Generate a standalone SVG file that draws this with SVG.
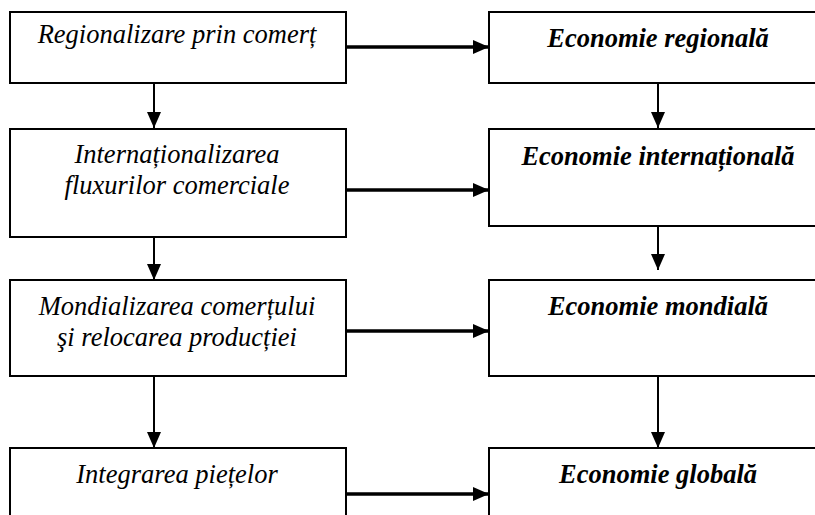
<svg xmlns="http://www.w3.org/2000/svg" width="815" height="515" viewBox="0 0 815 515">
<defs>
<style>
.box{fill:#fff;stroke:#000;stroke-width:2}
.lt{font-family:'Liberation Serif',serif;font-style:italic;font-size:26.5px;fill:#000;text-anchor:middle}
.rt{font-family:'Liberation Serif',serif;font-style:italic;font-weight:bold;font-size:26.5px;fill:#000;text-anchor:middle}
.h{stroke:#000;stroke-width:3.5;fill:none;marker-end:url(#ah)}
.v{stroke:#000;stroke-width:2;fill:none;marker-end:url(#av)}
</style>
<marker id="ah" markerUnits="userSpaceOnUse" markerWidth="16" markerHeight="14" refX="16" refY="7" orient="auto">
<path d="M0,0 L16,7 L0,14 Z" fill="#000"/>
</marker>
<marker id="av" markerUnits="userSpaceOnUse" markerWidth="16" markerHeight="14" refX="16" refY="7" orient="auto">
<path d="M0,0 L16,7 L0,14 Z" fill="#000"/>
</marker>
</defs>
<rect width="815" height="515" fill="#fff"/>
<g id="connectors">
<line class="h" x1="346" y1="47" x2="489" y2="47"/>
<line class="h" x1="346" y1="190" x2="489" y2="190"/>
<line class="h" x1="346" y1="331" x2="489" y2="331"/>
<line class="h" x1="346" y1="494" x2="489" y2="494"/>
<line class="v" x1="154" y1="83" x2="154" y2="128"/>
<line class="v" x1="154" y1="237" x2="154" y2="280"/>
<line class="v" x1="154" y1="376" x2="154" y2="448"/>
<line class="v" x1="658" y1="83" x2="658" y2="128"/>
<line class="v" x1="658" y1="226" x2="658" y2="270"/>
<line class="v" x1="658" y1="376" x2="658" y2="448"/>
</g>
<g id="n1"><rect class="box" x="10" y="12" width="336" height="71"/><text class="lt" x="177" y="43">Regionalizare prin comerț</text></g>
<g id="n2"><rect class="box" x="10" y="129" width="336" height="108"/><text class="lt" x="177" y="163">Internaționalizarea</text><text class="lt" x="177" y="194">fluxurilor comerciale</text></g>
<g id="n3"><rect class="box" x="10" y="280" width="336" height="96"/><text class="lt" x="177" y="315">Mondializarea comerțului</text><text class="lt" x="177" y="346">şi relocarea producției</text></g>
<g id="n4"><rect class="box" x="10" y="448" width="336" height="80"/><text class="lt" x="177" y="483">Integrarea piețelor</text></g>
<g id="r1"><rect class="box" x="489" y="12" width="340" height="71"/><text class="rt" x="658" y="47">Economie regională</text></g>
<g id="r2"><rect class="box" x="489" y="129" width="340" height="97"/><text class="rt" x="658" y="165">Economie internațională</text></g>
<g id="r3"><rect class="box" x="489" y="280" width="340" height="96"/><text class="rt" x="658" y="315">Economie mondială</text></g>
<g id="r4"><rect class="box" x="489" y="448" width="340" height="80"/><text class="rt" x="658" y="483">Economie globală</text></g>
</svg>
